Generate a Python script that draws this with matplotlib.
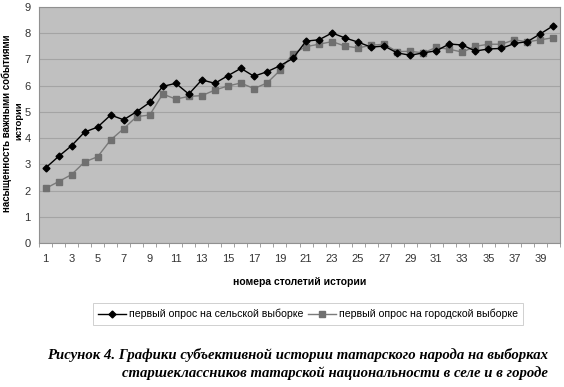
import matplotlib
matplotlib.use("Agg")
import matplotlib.pyplot as plt
from matplotlib.ticker import FixedLocator

plt.rcParams['font.family'] = ['Liberation Sans', 'DejaVu Sans']

centuries = list(range(1, 41))
rural = [2.86, 3.30, 3.71, 4.23, 4.42, 4.88, 4.70, 5.01, 5.36, 5.97,
         6.09, 5.68, 6.22, 6.09, 6.38, 6.66, 6.36, 6.53, 6.76, 7.04,
         7.70, 7.75, 8.01, 7.82, 7.66, 7.47, 7.51, 7.25, 7.16, 7.25,
         7.33, 7.59, 7.55, 7.32, 7.40, 7.42, 7.61, 7.68, 7.98, 8.29]
urban = [2.08, 2.34, 2.61, 3.09, 3.29, 3.93, 4.36, 4.82, 4.88, 5.68,
         5.49, 5.59, 5.62, 5.83, 5.99, 6.10, 5.89, 6.10, 6.58, 7.22,
         7.49, 7.58, 7.68, 7.51, 7.44, 7.54, 7.58, 7.30, 7.31, 7.25,
         7.46, 7.39, 7.28, 7.50, 7.58, 7.58, 7.75, 7.67, 7.75, 7.83]
series_names = ["первый опрос на сельской выборке", "первый опрос на городской выборке"]
x_tick_labels = [str(i) for i in range(1, 41, 2)]
y_ticks = list(range(0, 10))

fig = plt.figure(figsize=(5.64, 3.87), dpi=100)
ax = fig.add_axes([39/564, 1-243/387, (560-39)/564, (243-7)/387])
ax.set_facecolor("#c0c0c0")
for s in ax.spines.values():
    s.set_color("#909090")
    s.set_linewidth(0.8)

ax.plot(centuries, rural, color="black", lw=1.0, marker="D", ms=3.5,
        markerfacecolor="black", markeredgecolor="black", label=series_names[0], zorder=4)
ax.plot(centuries, urban, color="#7a7a7a", lw=1.0, marker="s", ms=4,
        markerfacecolor="#707070", markeredgecolor="#707070", label=series_names[1], zorder=3)

ax.set_xlim(0.5, 40.5)
ax.set_ylim(0, 9)
ax.set_yticks(y_ticks)
ax.yaxis.grid(True, color="#a4a4a4", lw=0.8)
ax.set_axisbelow(True)
ax.set_xticks(list(range(1, 41, 2)))
ax.set_xticklabels(x_tick_labels)
ax.xaxis.set_minor_locator(FixedLocator([i + 0.5 for i in range(0, 41)]))
ax.tick_params(axis="x", which="major", length=0, pad=8, labelsize=8, colors="#333333")
ax.tick_params(axis="x", which="minor", length=3, color="#909090", direction="out")
ax.tick_params(axis="y", length=0, pad=6, labelsize=8, colors="#333333")

ax.set_xlabel("номера столетий истории", fontsize=7.5, fontweight="bold", labelpad=9)

fig.text(7/564, 1-123/387, "насыщенность важными событиями", rotation=90,
         ha="center", va="center", fontsize=7, fontweight="bold")
fig.text(18.5/564, 1-121/387, "истории", rotation=90,
         ha="center", va="center", fontsize=6.8, fontweight="bold")

leg = fig.legend(loc="center", bbox_to_anchor=(308/564, 1-314/387), ncol=2,
                 fontsize=7.6, frameon=True, fancybox=False, edgecolor="#bbbbbb",
                 handlelength=2.6, columnspacing=0.5, handletextpad=0.3,
                 borderpad=0.5)
leg.get_frame().set_linewidth(0.6)

fig.text(548/564, 1-355/387,
         "Рисунок 4. Графики субъективной истории татарского народа на выборках",
         ha="right", va="center", family="Liberation Serif", style="italic",
         fontweight="bold", fontsize=10.6)
fig.text(548/564, 1-373/387,
         "старшеклассников татарской национальности в селе и в городе",
         ha="right", va="center", family="Liberation Serif", style="italic",
         fontweight="bold", fontsize=10.6)

fig.savefig("out.png", dpi=100)
